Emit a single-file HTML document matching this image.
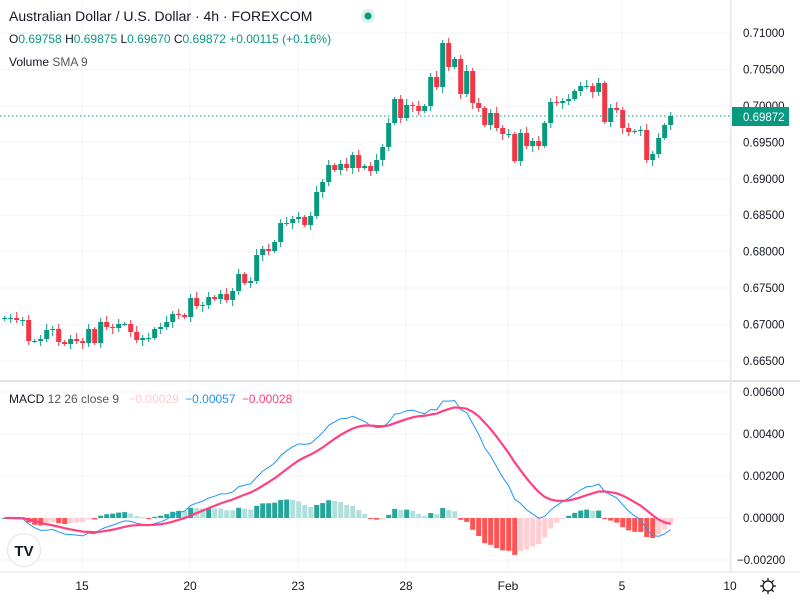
<!DOCTYPE html>
<html><head><meta charset="utf-8"><style>
body{margin:0;background:#fff;width:800px;height:600px;overflow:hidden;font-family:"Liberation Sans",sans-serif}
svg{position:absolute;left:0;top:0}
</style></head><body>
<svg id="s" width="800" height="600" xmlns="http://www.w3.org/2000/svg" font-family="Liberation Sans, sans-serif"></svg>
<script>
const S=document.getElementById('s');let h='';
// grid
const py=[33,69.4,105.9,142.3,178.8,215.2,251.6,288,324.5,361];
const pl=['0.71000','0.70500','0.70000','0.69500','0.69000','0.68500','0.68000','0.67500','0.67000','0.66500'];
py.forEach(y=>h+=`<line x1="0" x2="731" y1="${y}" y2="${y}" stroke="#f0f3fa"/>`);
const my=[392,434,476,518,560],ml=['0.00600','0.00400','0.00200','0.00000','\u22120.00200'];
my.forEach(y=>h+=`<line x1="0" x2="731" y1="${y}" y2="${y}" stroke="#f0f3fa"/>`);
const dx=[82,190,298,406,508,622,730],dl=['15','20','23','28','Feb','5','10'];
dx.forEach(x=>h+=`<line x1="${x}" x2="${x}" y1="0" y2="572" stroke="#f0f3fa"/>`);
h+=`<line x1="0" x2="800" y1="381" y2="381" stroke="#e0e3eb" stroke-width="2"/>`;
h+=`<line x1="731" x2="731" y1="0" y2="572" stroke="#e0e3eb"/>`;
h+=`<line x1="0" x2="800" y1="572" y2="572" stroke="#e0e3eb"/>`;
py.forEach((y,i)=>{if(i!=2)h+=`<text x="743" y="${y+4}" font-size="11.5" fill="#131722">${pl[i]}</text>`});
h+=`<text x="743" y="110" font-size="11.5" fill="#131722">0.70000</text>`;
my.forEach((y,i)=>h+=`<text x="${i==4?737:743}" y="${y+4}" font-size="11.5" fill="#131722">${ml[i]}</text>`);
dx.forEach((x,i)=>h+=`<text x="${x}" y="590" font-size="12" fill="#131722" text-anchor="middle">${dl[i]}</text>`);
// closes (y px)
const C=[318,318,320,320,341,341,339,330,329,342,344,339,341,343,329,343,322,327,328,324,324,332,340,338,338,329,327,322,314,315,317,298,306,305,297,299,294,300,291,274,283,281,255,249,251,242,223,223,219,217,225,216,192,182,165,170,164,168,155,168,166,171,160,147,123,99,118,105,106,111,106,77,87,43,67,59,94,71,103,108,125,113,128,134,134,161,133,146,141,146,123,102,103,101,99,91,86,86,92,83,122,108,110,128,132,131,130,160,154,138,125,116];
let o=319;
const W=[];
C.forEach((c,k)=>{
 const x=4.7+6*k;const up=c<=o;const col=up?'#089981':'#f23645';
 const t=Math.min(o,c),b=Math.max(o,c);
 const hi=t-2-((k*7)%5),lo=b+2+((k*3)%5);
 h+=`<line x1="${x}" x2="${x}" y1="${hi}" y2="${lo}" stroke="${col}"/>`;
 h+=`<rect x="${x-2.5}" y="${t}" width="5" height="${Math.max(1,b-t)}" fill="${col}"/>`;
 o=c;
});
// current price line
h+=`<line x1="0" x2="731" y1="116" y2="116" stroke="#089981" stroke-dasharray="1.5,2.5"/>`;
h+=`<rect x="732" y="107" width="57" height="19" fill="#089981"/><text x="743" y="121" font-size="11.5" fill="#fff">0.69872</text>`;
// MACD
const P=C.map(y=>0.71-(y-33)/36.44*0.005);
const a12=2/13,a26=2/27,a9=2/10;let e12=P[0],e26=P[0],sg=0;const M=[],G=[],H=[];
P.forEach(p=>{e12=e12+a12*(p-e12);e26=e26+a26*(p-e26);const m=e12-e26;sg=sg+a9*(m-sg);M.push(m);G.push(sg);H.push(m-sg)});
const Y=v=>518-v/0.002*42;
H.forEach((v,k)=>{const x=4.7+6*k;const prev=k?H[k-1]:0;let col;
 if(v>=0)col=v>=prev?'#26a69a':'#b2dfdb';else col=v<prev?'#ff5252':'#ffcdd2';
 const y1=Y(v);h+=`<rect x="${x-2.5}" y="${Math.min(y1,518)}" width="5" height="${Math.max(1,Math.abs(y1-518))}" fill="${col}"/>`});
h+=`<polyline fill="none" stroke="#2196f3" stroke-width="1" points="${M.map((v,k)=>(4.7+6*k)+','+Y(v)).join(' ')}"/>`;
h+=`<polyline fill="none" stroke="#ff4081" stroke-width="2.2" points="${G.map((v,k)=>(4.7+6*k)+','+Y(v)).join(' ')}"/>`;
// headers
h+=`<text x="9" y="21" font-size="14" fill="#131722">Australian Dollar / U.S. Dollar · 4h · FOREXCOM</text>`;
h+=`<circle cx="368" cy="16" r="7" fill="#d9f0ea"/><circle cx="368" cy="16" r="3.5" fill="#089981"/>`;
h+=`<text x="9" y="43" font-size="12" fill="#089981"><tspan fill="#131722">O</tspan>0.69758 <tspan fill="#131722">H</tspan>0.69875 <tspan fill="#131722">L</tspan>0.69670 <tspan fill="#131722">C</tspan>0.69872 +0.00115 (+0.16%)</text>`;
h+=`<text x="9" y="66" font-size="12" fill="#131722">Volume <tspan fill="#555">SMA 9</tspan></text>`;
h+=`<text x="9" y="403" font-size="12" fill="#131722">MACD <tspan fill="#555">12 26 close 9</tspan> <tspan fill="#ffcdd2" dx="6">\u22120.00029</tspan> <tspan fill="#2196f3" dx="3">\u22120.00057</tspan> <tspan fill="#ff4081" dx="3">\u22120.00028</tspan></text>`;
// TV logo
h+=`<circle cx="24" cy="550" r="16.5" fill="#fff" stroke="#e0e3eb"/><text x="24" y="556" font-size="15" font-weight="bold" fill="#131722" text-anchor="middle">TV</text>`;
// gear
h+=`<circle cx="768" cy="586" r="5" fill="none" stroke="#131722" stroke-width="1.3"/>`;
for(let i=0;i<8;i++){const a=i*Math.PI/4;h+=`<line x1="${768+5*Math.cos(a)}" y1="${586+5*Math.sin(a)}" x2="${768+8*Math.cos(a)}" y2="${586+8*Math.sin(a)}" stroke="#131722" stroke-width="1.3"/>`}
S.innerHTML=h;
</script>
</body></html>
